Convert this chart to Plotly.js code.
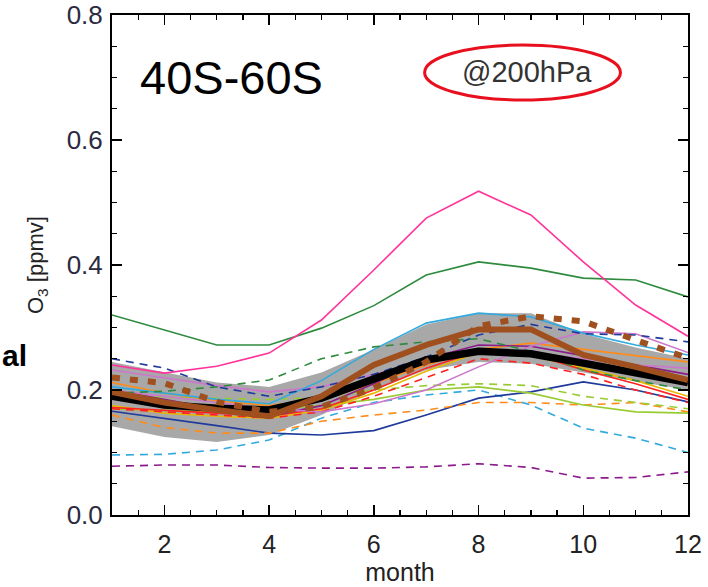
<!DOCTYPE html>
<html>
<head>
<meta charset="utf-8">
<script src="https://cdn.plot.ly/plotly-3.0.1.min.js"></script>
<style>html,body{margin:0;padding:0;background:#fff;}#chart{width:708px;height:587px;}</style>
</head>
<body>
<div id="chart"></div>
<script>
// months
var months = [1,2,3,4,5,6,7,8,9,10,11,12];
var xTickVals = [2,4,6,8,10,12];
var xTickText = ["2","4","6","8","10","12"];

// shaded range
var bandUpper = [0.245,0.228,0.212,0.205,0.228,0.265,0.305,0.323,0.323,0.290,0.268,0.250];
var bandLower = [0.142,0.125,0.117,0.128,0.160,0.200,0.232,0.245,0.242,0.228,0.215,0.200];

// thick lines
var blackMean   = [0.190,0.176,0.171,0.168,0.187,0.216,0.248,0.262,0.258,0.243,0.228,0.212];
var brownSolid  = [0.197,0.180,0.168,0.158,0.190,0.240,0.272,0.297,0.297,0.256,0.237,0.216];
var brownDotted = [0.220,0.211,0.181,0.165,0.173,0.203,0.245,0.302,0.318,0.310,0.280,0.251];

// thin model lines
var pinkSolid    = [0.240,0.227,0.238,0.259,0.312,0.392,0.475,0.518,0.480,0.405,0.336,0.286];
var greenSolid   = [0.320,0.296,0.272,0.272,0.299,0.335,0.384,0.405,0.395,0.379,0.376,0.349];
var greenDashed  = [0.195,0.198,0.205,0.216,0.250,0.269,0.277,0.282,0.262,0.232,0.215,0.200];
var navyDashed   = [0.250,0.235,0.205,0.190,0.205,0.225,0.253,0.288,0.305,0.290,0.288,0.277];
var cyanSolid    = [0.205,0.195,0.185,0.178,0.215,0.265,0.307,0.323,0.317,0.291,0.272,0.256];
var orchidUpper  = [0.232,0.220,0.207,0.197,0.205,0.225,0.245,0.262,0.260,0.250,0.240,0.235];
var orchidLower  = [0.200,0.190,0.180,0.170,0.165,0.178,0.200,0.237,0.270,0.293,0.290,0.260];
var purpleSolid  = [0.200,0.185,0.170,0.158,0.175,0.210,0.250,0.272,0.270,0.255,0.240,0.225];
var redSolid     = [0.172,0.168,0.163,0.158,0.170,0.200,0.235,0.262,0.258,0.232,0.210,0.185];
var redDashed    = [0.170,0.165,0.160,0.155,0.165,0.190,0.220,0.250,0.243,0.225,0.200,0.180];
var orangeSolid  = [0.212,0.195,0.183,0.175,0.185,0.210,0.240,0.265,0.275,0.265,0.255,0.245];
var orangeDashed = [0.160,0.140,0.131,0.131,0.150,0.160,0.168,0.180,0.180,0.176,0.180,0.165];
var limeSolid    = [0.170,0.168,0.165,0.170,0.175,0.185,0.200,0.205,0.195,0.176,0.165,0.163];
var limeDashed   = [0.190,0.188,0.187,0.185,0.188,0.200,0.207,0.210,0.207,0.190,0.180,0.170];
var goldSolid    = [0.175,0.163,0.158,0.155,0.168,0.195,0.230,0.260,0.255,0.235,0.215,0.190];
var navySolid    = [0.166,0.155,0.143,0.131,0.128,0.135,0.160,0.187,0.197,0.213,0.200,0.181];
var cyanDashed   = [0.096,0.097,0.104,0.120,0.155,0.180,0.192,0.200,0.176,0.139,0.123,0.100];
var purpleDashed = [0.078,0.080,0.080,0.076,0.075,0.075,0.077,0.082,0.076,0.059,0.060,0.069];

// labels
var regionLabel = "40S-60S";
var levelLabel = "@200hPa";
var sideLabel = "al";
var yTitle = "O<sub>3</sub> [ppmv]";
var xTitle = "month";

function thin(y, color, dash, w) {
  return {x: months, y: y, mode: 'lines', type: 'scatter', hoverinfo: 'skip',
          line: {color: color, width: w || 1.6, dash: dash || 'solid'}, showlegend: false};
}

var traces = [
  {x: months, y: bandLower, mode: 'lines', line: {width: 0, color: 'rgba(0,0,0,0)'}, showlegend: false, hoverinfo: 'skip'},
  {x: months, y: bandUpper, mode: 'lines', fill: 'tonexty', fillcolor: '#a8a8a8', line: {width: 0, color: 'rgba(0,0,0,0)'}, showlegend: false, hoverinfo: 'skip'},
  thin(purpleDashed, '#8b1a8b', '8px,6px'),
  thin(cyanDashed, '#33aadd', '8px,6px'),
  thin(navySolid, '#1f3a9a'),
  thin(orangeDashed, '#ff8c1a', '8px,6px'),
  thin(limeSolid, '#99cc33'),
  thin(limeDashed, '#99cc33', '8px,6px'),
  thin(goldSolid, '#e6b800'),
  thin(redDashed, '#ff2222', '8px,6px'),
  thin(redSolid, '#ff2222'),
  thin(orangeSolid, '#ff8c1a'),
  thin(purpleSolid, '#8b1a8b'),
  thin(orchidLower, '#cc77cc'),
  thin(orchidUpper, '#cc77cc'),
  thin(cyanSolid, '#33aadd'),
  thin(navyDashed, '#1f3a9a', '8px,6px'),
  thin(greenDashed, '#2e8b3e', '8px,6px'),
  thin(greenSolid, '#2e8b3e'),
  thin(pinkSolid, '#ff3399'),
  thin(blackMean, '#000000', 'solid', 7.5),
  thin(brownSolid, '#a0501e', 'solid', 6),
  thin(brownDotted, '#a0501e', '8px,10px', 6)
];

var axisCommon = {
  showgrid: false, zeroline: false, showline: true, linecolor: '#000', linewidth: 2,
  mirror: 'ticks', ticks: 'inside', ticklen: 10, tickwidth: 1.5, tickcolor: '#000'
};

var FONT = 'Liberation Sans, Arial, sans-serif';

var layout = {
  width: 708, height: 587,
  margin: {l: 112, r: 20, t: 15, b: 72},
  paper_bgcolor: '#fff', plot_bgcolor: '#fff',
  font: {family: FONT, color: '#222'},
  xaxis: Object.assign({}, axisCommon, {
    range: [1, 12], tickvals: xTickVals, ticktext: xTickText,
    tickfont: {size: 25, color: '#222'}, ticklabelstandoff: 6,
    minor: {dtick: 0.5, tick0: 0, ticks: 'inside', ticklen: 5, tickcolor: '#000', tickwidth: 1.2},
    title: {text: xTitle, font: {size: 25, color: '#222'}, standoff: 0}
  }),
  yaxis: Object.assign({}, axisCommon, {
    range: [0, 0.8], dtick: 0.2, tick0: 0, tickformat: '.1f',
    tickfont: {size: 26, color: '#2a2a40'}, ticklabelstandoff: 2,
    minor: {dtick: 0.05, tick0: 0, ticks: 'inside', ticklen: 5, tickcolor: '#000', tickwidth: 1.2}
  }),
  annotations: [
    {xref: 'x', yref: 'y', x: 1.5, y: 0.70, text: regionLabel, showarrow: false, xanchor: 'left', yanchor: 'middle',
     font: {size: 47, color: '#000', family: FONT}},
    {xref: 'x', yref: 'y', x: 8.93, y: 0.709, text: levelLabel, showarrow: false, xanchor: 'center', yanchor: 'middle',
     font: {size: 29, color: '#333', family: FONT}},
    {xref: 'paper', yref: 'y', x: -75/576, y: 0.40, text: yTitle, showarrow: false, textangle: -90,
     xanchor: 'center', yanchor: 'middle', font: {size: 22, color: '#222', family: FONT}},
    {xref: 'paper', yref: 'y', x: -112/576, y: 0.255, text: sideLabel, showarrow: false, xanchor: 'left', yanchor: 'middle',
     font: {size: 30, color: '#000', family: FONT, weight: 'bold'}}
  ],
  shapes: [
    {type: 'circle', xref: 'x', yref: 'y', x0: 6.97, x1: 10.71, y0: 0.664, y1: 0.752,
     line: {color: '#e8101e', width: 3}}
  ]
};

Plotly.newPlot('chart', traces, layout, {staticPlot: true, displayModeBar: false});
</script>
</body>
</html>
